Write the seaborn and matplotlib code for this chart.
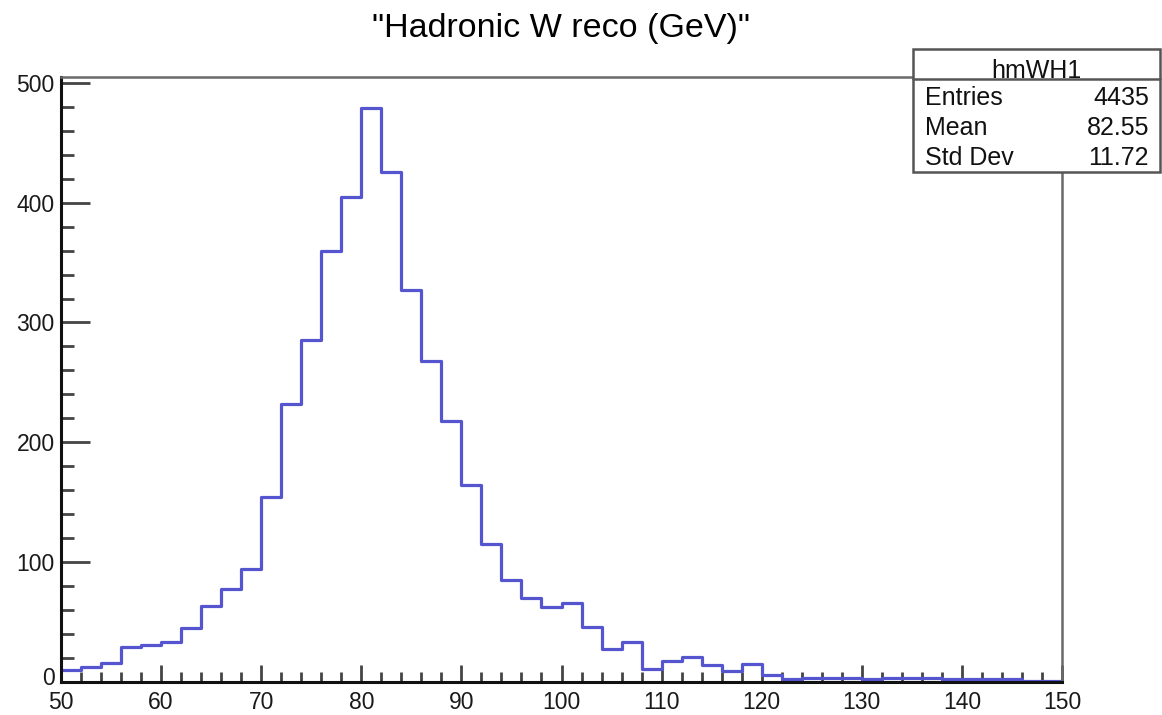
import numpy as np
import pandas as pd
import matplotlib
matplotlib.use("Agg")
import matplotlib.pyplot as plt
import matplotlib.transforms as mtransforms
from matplotlib.ticker import MultipleLocator
from matplotlib.patches import Rectangle
from matplotlib.lines import Line2D
import seaborn as sns

# ---- data ----
bin_lo = 50
bin_hi = 150
bin_width = 2
bin_centers = [51, 53, 55, 57, 59, 61, 63, 65, 67, 69,
               71, 73, 75, 77, 79, 81, 83, 85, 87, 89,
               91, 93, 95, 97, 99, 101, 103, 105, 107, 109,
               111, 113, 115, 117, 119, 121, 123, 125, 127, 129,
               131, 133, 135, 137, 139, 141, 143, 145, 147, 149]
counts = [10, 12, 16, 29, 31, 33, 45, 63, 77, 94,
          154, 232, 285, 360, 405, 479, 426, 327, 268, 218,
          164, 115, 85, 70, 62, 66, 46, 27, 33, 11,
          17, 21, 14, 9, 15, 6, 2, 3, 3, 3,
          2, 3, 3, 3, 2, 2, 2, 2, 1, 1]
title = '"Hadronic W reco (GeV)"'
stats_name = "hmWH1"
stats_labels = ["Entries", "Mean", "Std Dev"]
stats_values = ["4435", "82.55", "11.72"]
x_ticks = [50, 60, 70, 80, 90, 100, 110, 120, 130, 140, 150]
y_ticks = [0, 100, 200, 300, 400, 500]

df = pd.DataFrame({"x": bin_centers, "w": counts})

sns.set_style("white")
plt.rcParams["font.family"] = ["Liberation Sans", "DejaVu Sans"]

W, H = 1162, 715
fig = plt.figure(figsize=(W / 100, H / 100), dpi=100)
left, right, top, bottom = 61, 1062, 77, 681.7
ax = fig.add_axes([left / W, (H - bottom) / H, (right - left) / W, (bottom - top) / H])

sns.histplot(data=df, x="x", weights="w", binwidth=bin_width, binrange=(bin_lo, bin_hi),
             element="step", fill=False, color="#5555d0", linewidth=2.3, ax=ax)

ax.set_xlim(bin_lo, bin_hi)
ax.set_ylim(0, 505)
ax.set_xlabel("")
ax.set_ylabel("")
ax.set_xticks(x_ticks)
ax.set_yticks(y_ticks)
ax.xaxis.set_minor_locator(MultipleLocator(2))
ax.yaxis.set_minor_locator(MultipleLocator(20))
ax.tick_params(which="both", top=False, right=False, bottom=True, left=True)
ax.tick_params(axis="x", which="major", direction="in", length=12.2, width=2.0,
               color="#444444", labelsize=16.5, pad=6.5, labelcolor="#1a1a1a")
ax.tick_params(axis="x", which="minor", direction="in", length=7.2, width=2.0, color="#444444")
ax.tick_params(axis="y", which="major", direction="in", length=21, width=2.0,
               color="#444444", labelsize=16.5, pad=4.5, labelcolor="#1a1a1a")
ax.tick_params(axis="y", which="minor", direction="in", length=9.5, width=2.0, color="#444444")

for s in ["left", "bottom"]:
    ax.spines[s].set_color("#111111")
    ax.spines[s].set_linewidth(2.2)
for s in ["top", "right"]:
    ax.spines[s].set_color("#6a6a6a")
    ax.spines[s].set_linewidth(1.8)
    ax.spines[s].set_visible(True)

# nudge the y "0" label up slightly so it does not collide with the x "50"
fig.canvas.draw()
ylabels = ax.get_yticklabels()
if ylabels:
    off = mtransforms.ScaledTranslation(0, 4 / 72, fig.dpi_scale_trans)
    ylabels[0].set_transform(ylabels[0].get_transform() + off)

# title
fig.text((left + right) / 2 / W, 1 - 37 / H, title, ha="center", va="baseline",
         fontsize=24.5, color="#000000")

# stats box
bx0, bx1, by0, by1, bsep = 913, 1160, 49, 172, 79
def fx(px):
    return px / W
def fy(py):
    return 1 - py / H
fig.add_artist(Rectangle((fx(bx0), fy(by1)), fx(bx1) - fx(bx0), fy(by0) - fy(by1),
                         transform=fig.transFigure, facecolor="white",
                         edgecolor="#555555", linewidth=1.8, zorder=10))
fig.add_artist(Line2D([fx(bx0), fx(bx1)], [fy(bsep), fy(bsep)], transform=fig.transFigure,
                      color="#555555", linewidth=1.8, zorder=11))
fig.text(fx((bx0 + bx1) / 2), fy(77.5), stats_name, ha="center", va="baseline",
         fontsize=18, color="#111111", zorder=12)
for i, (lab, val) in enumerate(zip(stats_labels, stats_values)):
    yb = 105 + 30 * i
    fig.text(fx(925), fy(yb), lab, ha="left", va="baseline", fontsize=18,
             color="#111111", zorder=12)
    fig.text(fx(1149), fy(yb), val, ha="right", va="baseline", fontsize=18,
             color="#111111", zorder=12)

fig.savefig("out.png", dpi=100)
